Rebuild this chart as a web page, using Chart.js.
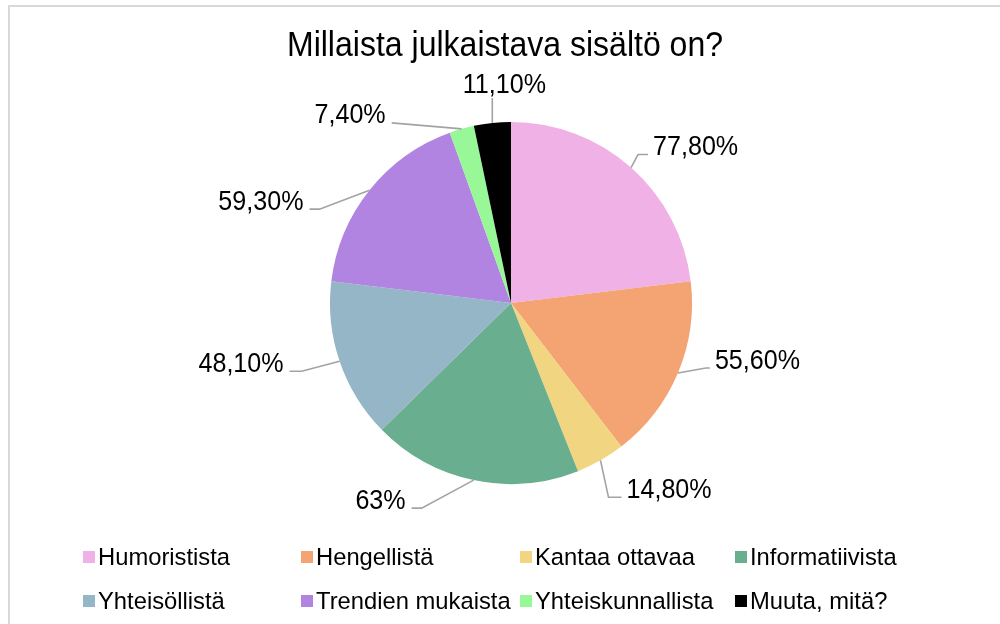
<!DOCTYPE html>
<html>
<head>
<meta charset="utf-8">
<script src="https://cdn.jsdelivr.net/npm/chart.js@4/dist/chart.umd.min.js"></script>
<style>
  html, body { margin: 0; padding: 0; background: #fff; }
  canvas { display: block; }
</style>
</head>
<body>
<canvas id="c" width="1000" height="624"></canvas>
<script>
// ---- data ----
const title = 'Millaista julkaistava sisältö on?';
const categories = ['Humoristista', 'Hengellistä', 'Kantaa ottavaa', 'Informatiivista',
                    'Yhteisöllistä', 'Trendien mukaista', 'Yhteiskunnallista', 'Muuta, mitä?'];
const values = [77.8, 55.6, 14.8, 63, 48.1, 59.3, 7.4, 11.1];
const colors = ['#F0B1E6', '#F4A372', '#F1D580', '#69AE8E', '#94B6C6', '#B084E0', '#98F898', '#000000'];

// label formatting (Finnish decimal comma)
function fmt(v) {
  return (Number.isInteger(v) ? String(v) : v.toFixed(2).replace('.', ',')) + '%';
}

// leader-line layout per slice (elbow offset from arc edge, horizontal run, side)
const leaderStyle = [
  { dx: 7,   dy: -13, h: 10,  side: 'right' },
  { dx: 28,  dy: -5,  h: 4,   side: 'right' },
  { dx: 8,   dy: 37,  h: 13,  side: 'right' },
  { dx: -52, dy: 28,  h: -10, side: 'left' },
  { dx: -38, dy: 10,  h: -12, side: 'left' },
  { dx: -50, dy: 19,  h: -10, side: 'left' },
  { dx: -70, dy: -6,  h: 0,   side: 'left' },
  { dx: 0,   dy: -25, h: 0,   side: 'top', tx: 12 }
];

const FONT = '"Liberation Sans", Arial, sans-serif';

function narrowText(ctx, txt, x, y, sx) {
  ctx.save();
  ctx.translate(x, y);
  ctx.scale(sx, 1);
  ctx.fillText(txt, 0, 0);
  ctx.restore();
}

const framePlugin = {
  id: 'frame',
  beforeDraw(chart) {
    const ctx = chart.ctx;
    ctx.save();
    ctx.fillStyle = '#ffffff';
    ctx.fillRect(0, 0, chart.width, chart.height);
    ctx.strokeStyle = '#D9D9D9';
    ctx.lineWidth = 2;
    ctx.strokeRect(9, 6, 1200, 900);
    // title
    ctx.fillStyle = '#000';
    ctx.font = '35px ' + FONT;
    ctx.textAlign = 'center';
    ctx.textBaseline = 'middle';
    narrowText(ctx, title, 505, 46, 0.915);
    ctx.restore();
  }
};

const labelPlugin = {
  id: 'leaderLabels',
  afterDatasetsDraw(chart) {
    const ctx = chart.ctx;
    const meta = chart.getDatasetMeta(0);
    const ds = chart.data.datasets[0];
    ctx.save();
    meta.data.forEach((arc, i) => {
      const p = arc.getProps(['x', 'y', 'startAngle', 'endAngle', 'outerRadius'], true);
      const mid = (p.startAngle + p.endAngle) / 2;
      const ax = p.x + Math.cos(mid) * p.outerRadius;
      const ay = p.y + Math.sin(mid) * p.outerRadius;
      const s = leaderStyle[i];
      const ex = ax + s.dx, ey = ay + s.dy;
      const hx = ex + s.h;
      ctx.strokeStyle = '#A3A3A3';
      ctx.lineWidth = 1.6;
      ctx.beginPath();
      ctx.moveTo(ax, ay);
      ctx.lineTo(ex, ey);
      if (s.h !== 0) ctx.lineTo(hx, ey);
      ctx.stroke();
      ctx.fillStyle = '#000';
      ctx.font = '27px ' + FONT;
      const txt = fmt(ds.data[i]);
      const sx = 0.93;
      if (s.side === 'right') {
        ctx.textAlign = 'left'; ctx.textBaseline = 'middle';
        narrowText(ctx, txt, hx + 5, ey - 7, sx);
      } else if (s.side === 'left') {
        ctx.textAlign = 'right'; ctx.textBaseline = 'middle';
        narrowText(ctx, txt, hx - 6, ey - 7, sx);
      } else {
        ctx.textAlign = 'center'; ctx.textBaseline = 'middle';
        narrowText(ctx, txt, hx + (s.tx || 0), ey - 12, sx);
      }
    });
    ctx.restore();
  }
};

const legendPlugin = {
  id: 'gridLegend',
  afterDraw(chart) {
    const ctx = chart.ctx;
    const colX = [83, 301, 520, 735];
    const rowY = [557, 601];
    const labels = chart.data.labels;
    const bg = chart.data.datasets[0].backgroundColor;
    ctx.save();
    ctx.font = '24.5px ' + FONT;
    ctx.textAlign = 'left';
    ctx.textBaseline = 'middle';
    labels.forEach((lab, i) => {
      const x = colX[i % 4], y = rowY[Math.floor(i / 4)];
      ctx.fillStyle = bg[i];
      ctx.fillRect(x, y - 6, 12, 12);
      ctx.fillStyle = '#000';
      narrowText(ctx, lab, x + 15, y + 1, 0.97);
    });
    ctx.restore();
  }
};

new Chart(document.getElementById('c'), {
  type: 'pie',
  data: {
    labels: categories,
    datasets: [{
      data: values,
      backgroundColor: colors,
      borderWidth: 0
    }]
  },
  options: {
    responsive: false,
    devicePixelRatio: 1,
    animation: false,
    layout: { padding: { left: 330, right: 308, top: 122, bottom: 140 } },
    plugins: {
      legend: { display: false },
      title: { display: false },
      tooltip: { enabled: false }
    }
  },
  plugins: [framePlugin, labelPlugin, legendPlugin]
});
</script>
</body>
</html>
